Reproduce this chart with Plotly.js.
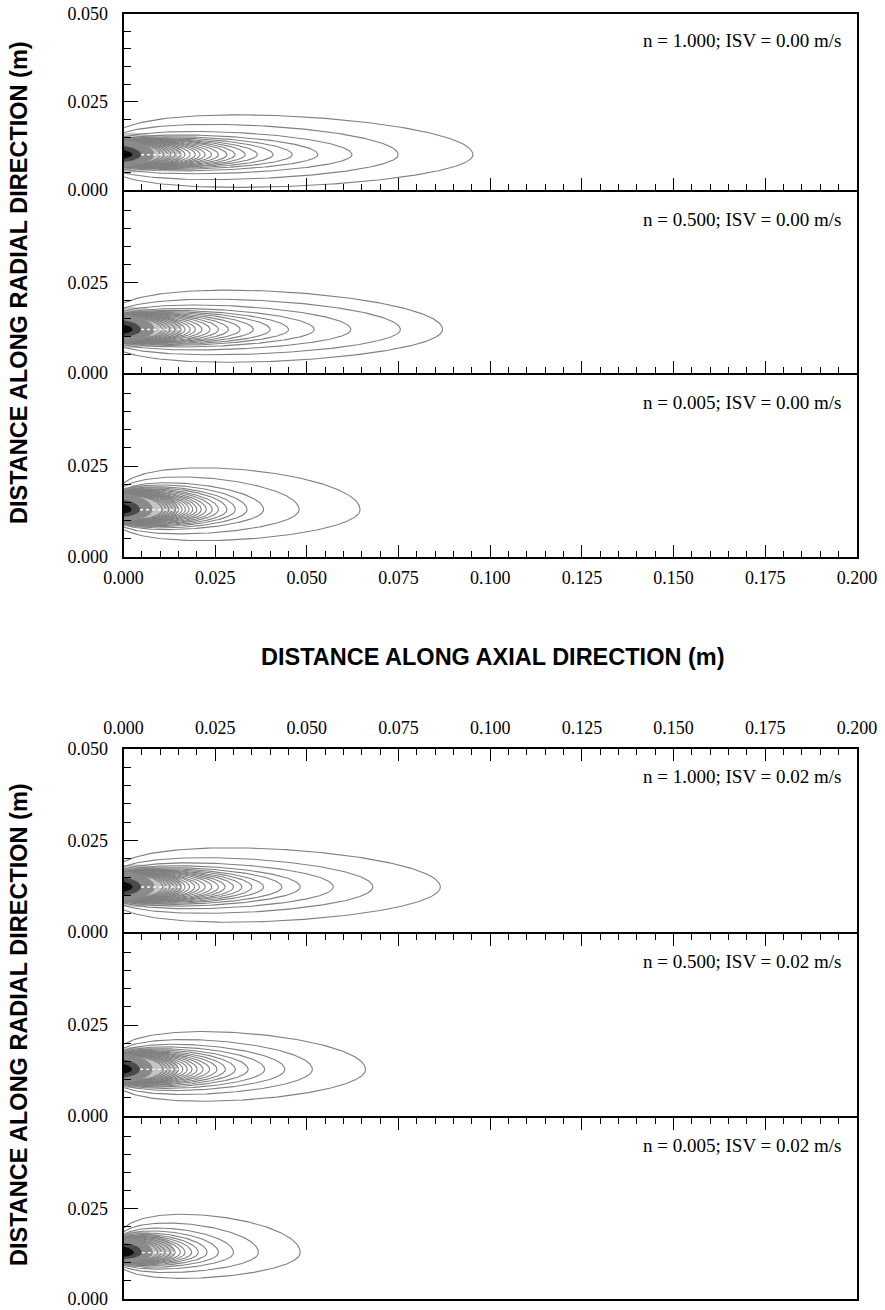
<!DOCTYPE html>
<html>
<head>
<meta charset="utf-8">
<script src="https://cdn.plot.ly/plotly-3.0.1.min.js"></script>
<style>
  html, body { margin: 0; padding: 0; background: #fff; }
  #chart { width: 885px; height: 1310px; }
</style>
</head>
<body>
<div id="chart"></div>
<script>
// ---- data -----------------------------------------------------------------
const panelText = [
  'n = 1.000; ISV = 0.00 m/s',
  'n = 0.500; ISV = 0.00 m/s',
  'n = 0.005; ISV = 0.00 m/s',
  'n = 1.000; ISV = 0.02 m/s',
  'n = 0.500; ISV = 0.02 m/s',
  'n = 0.005; ISV = 0.02 m/s'
];

const xTicks = [0, 0.025, 0.05, 0.075, 0.1, 0.125, 0.15, 0.175, 0.2];
const yTicksTop = [0, 0.025, 0.05];
const yTicksInner = [0, 0.025];

// radial position of the plume axis in each panel (m)
const plumeAxis = [0.0100, 0.0120, 0.0130, 0.0123, 0.0128, 0.0128];

// axial reach of each iso-concentration line (m), outermost first
const reach1 = [0.0953, 0.0749, 0.0623, 0.0530, 0.0460, 0.0408, 0.0365, 0.0332, 0.0304, 0.0282, 0.0259, 0.0240,
                0.0223, 0.0209, 0.0196, 0.0182, 0.0168, 0.0155, 0.0141, 0.0130, 0.0120, 0.0110, 0.0100];
const reach2 = [0.0870, 0.0755, 0.0620, 0.0520, 0.0450, 0.0400, 0.0354, 0.0318, 0.0286, 0.0259, 0.0236, 0.0214,
                0.0196, 0.0182, 0.0168, 0.0155, 0.0141, 0.0127, 0.0116, 0.0105];
const reach3 = [0.0645, 0.0479, 0.0382, 0.0337, 0.0305, 0.0282, 0.0259, 0.0242, 0.0226, 0.0212, 0.0200, 0.0189,
                0.0179, 0.0169, 0.0160, 0.0151, 0.0142, 0.0133, 0.0124, 0.0115, 0.0106];
const reach4 = [0.0864, 0.0680, 0.0572, 0.0482, 0.0432, 0.0382, 0.0350, 0.0323, 0.0300, 0.0277, 0.0259, 0.0241,
                0.0223, 0.0207, 0.0194, 0.0180, 0.0168, 0.0157, 0.0147, 0.0137, 0.0127, 0.0117, 0.0107];
const reach5 = [0.0660, 0.0515, 0.0440, 0.0385, 0.0340, 0.0305, 0.0278, 0.0255, 0.0235, 0.0217, 0.0201, 0.0187,
                0.0174, 0.0162, 0.0150, 0.0139, 0.0128, 0.0118, 0.0108];
const reach6 = [0.0482, 0.0368, 0.0300, 0.0259, 0.0228, 0.0204, 0.0186, 0.0168, 0.0155, 0.0141, 0.0128, 0.0114,
                0.0103, 0.0093];

// largest upper half width of each line (m), same order as the reaches
const width1 = [0.0113, 0.0086, 0.0066, 0.0056, 0.0051, 0.0048, 0.0046, 0.0045, 0.0044, 0.0043, 0.0042, 0.0041,
                0.0041, 0.0040, 0.0040, 0.0039, 0.0039, 0.0038, 0.0038, 0.0037, 0.0037, 0.0036, 0.0036];
const width2 = [0.0109, 0.0084, 0.0068, 0.0058, 0.0053, 0.0050, 0.0048, 0.0046, 0.0045, 0.0044, 0.0043, 0.0042,
                0.0041, 0.0040, 0.0040, 0.0039, 0.0038, 0.0038, 0.0037, 0.0036];
const width3 = [0.0115, 0.0090, 0.0074, 0.0068, 0.0063, 0.0060, 0.0057, 0.0055, 0.0053, 0.0051, 0.0050, 0.0048,
                0.0047, 0.0046, 0.0045, 0.0044, 0.0043, 0.0042, 0.0041, 0.0040, 0.0039];
const width4 = [0.0107, 0.0080, 0.0066, 0.0058, 0.0053, 0.0050, 0.0048, 0.0046, 0.0045, 0.0044, 0.0043, 0.0042,
                0.0041, 0.0040, 0.0040, 0.0039, 0.0039, 0.0038, 0.0038, 0.0037, 0.0037, 0.0036, 0.0036];
const width5 = [0.0104, 0.0082, 0.0069, 0.0062, 0.0057, 0.0054, 0.0051, 0.0049, 0.0047, 0.0046, 0.0045, 0.0044,
                0.0043, 0.0042, 0.0041, 0.0040, 0.0039, 0.0038, 0.0037];
const width6 = [0.0106, 0.0082, 0.0068, 0.0060, 0.0054, 0.0050, 0.0047, 0.0045, 0.0043, 0.0041, 0.0039, 0.0037,
                0.0036, 0.0035];

// lower half width as a share of the upper one (the wall side is flattened)
const lowerShare = [0.82, 0.83, 0.74, 0.90, 0.84, 0.67];

// shaded core: reach and half width of the light, mid, dark and black zones (m)
const coreReach1 = [0.0160, 0.0085, 0.0048, 0.0025];
const coreReach2 = [0.0160, 0.0085, 0.0048, 0.0025];
const coreReach3 = [0.0150, 0.0080, 0.0045, 0.0022];
const coreReach4 = [0.0160, 0.0085, 0.0048, 0.0025];
const coreReach5 = [0.0150, 0.0080, 0.0045, 0.0023];
const coreReach6 = [0.0140, 0.0080, 0.0050, 0.0028];
const coreWidth1 = [0.0062, 0.0042, 0.0027, 0.0017];
const coreWidth2 = [0.0062, 0.0042, 0.0027, 0.0017];
const coreWidth3 = [0.0064, 0.0042, 0.0027, 0.0017];
const coreWidth4 = [0.0062, 0.0042, 0.0027, 0.0017];
const coreWidth5 = [0.0062, 0.0042, 0.0027, 0.0017];
const coreWidth6 = [0.0060, 0.0040, 0.0026, 0.0017];

// ---- drawing ---------------------------------------------------------------
const reaches = [reach1, reach2, reach3, reach4, reach5, reach6];
const widths = [width1, width2, width3, width4, width5, width6];
const coreReaches = [coreReach1, coreReach2, coreReach3, coreReach4, coreReach5, coreReach6];
const coreWidths = [coreWidth1, coreWidth2, coreWidth3, coreWidth4, coreWidth5, coreWidth6];

// virtual source set back behind the inlet wall (m), controls how the lines meet x = 0
const sourceSetback = [0.0060, 0.0055, 0.0034, 0.0047, 0.0040, 0.0026];
const coreColors = ['rgba(150,150,150,0.55)', '#8a8a8a', '#4a4a4a', '#0c0c0c'];

const PAGE_W = 885, PAGE_H = 1310;
const plotLeft = 123.5, plotRight = 857;
// frame edges in page pixels; a panel sharing an edge with the one above starts 2px lower
// so that the two 2px frame lines fall on top of each other
const panelTop = [13.5, 192, 375, 749, 934, 1118];
const panelBottom = [190, 373, 557, 932, 1116, 1299];
// which panels draw the frame line on the side opposite their x axis
const mirrorX = [true, false, false, false, false, true];

function shape(x, L, xa) {
  const s = (x + xa) / (L + xa);
  if (s >= 1) return 0;
  return Math.sqrt(Math.E * s * Math.log(1 / s));
}

// closed outline of one iso-line: upper branch out to the tip, lower branch back
function outline(L, wUp, wLo, yc, xa) {
  const n = 140, xs = [], ys = [];
  for (let i = 0; i <= n; i++) {
    const t = i / n, x = L * (1 - (1 - t) * (1 - t));
    xs.push(x); ys.push(yc + wUp * shape(x, L, xa));
  }
  for (let i = n; i >= 0; i--) {
    const t = i / n, x = L * (1 - (1 - t) * (1 - t));
    xs.push(x); ys.push(yc - wLo * shape(x, L, xa));
  }
  return { xs, ys };
}

const traces = [];
const layout = {
  width: PAGE_W, height: PAGE_H,
  margin: { l: 0, r: 0, t: 0, b: 0 },
  paper_bgcolor: '#fff', plot_bgcolor: '#fff',
  showlegend: false,
  annotations: []
};
const serif = 'Liberation Serif, Times New Roman, serif';
const sans = 'Liberation Sans, Arial, sans-serif';

for (let p = 0; p < 6; p++) {
  const ax = p === 0 ? '' : String(p + 1);
  const xa = 'x' + ax, ya = 'y' + ax;
  const yc = plumeAxis[p], share = lowerShare[p], back = sourceSetback[p];

  // light shaded band under the packed lines
  const cr = coreReaches[p], cw = coreWidths[p];
  const addCore = (k) => {
    const o = outline(cr[k], cw[k], cw[k] * share, yc, back);
    traces.push({ type: 'scatter', mode: 'lines', x: o.xs, y: o.ys, xaxis: xa, yaxis: ya,
      fill: 'toself', fillcolor: coreColors[k], line: { width: 0, color: 'rgba(0,0,0,0)' },
      hoverinfo: 'skip' });
  };
  addCore(0);

  // iso-lines
  const lx = [], ly = [];
  reaches[p].forEach((L, i) => {
    const o = outline(L, widths[p][i], widths[p][i] * share, yc, back);
    lx.push(...o.xs, null); ly.push(...o.ys, null);
  });
  traces.push({ type: 'scatter', mode: 'lines', x: lx, y: ly, xaxis: xa, yaxis: ya,
    line: { color: '#808080', width: 1.1 }, hoverinfo: 'skip' });

  addCore(1); addCore(2); addCore(3);

  // bright streak along the axis inside the core
  traces.push({ type: 'scatter', mode: 'lines', x: [cr[2], cr[0]], y: [yc, yc], xaxis: xa, yaxis: ya,
    line: { color: '#ffffff', width: 1.4, dash: 'dot' }, hoverinfo: 'skip' });

  const yDomain = [1 - panelBottom[p] / PAGE_H, 1 - panelTop[p] / PAGE_H];
  const upperSet = p < 3;
  layout['xaxis' + ax] = {
    domain: [plotLeft / PAGE_W, plotRight / PAGE_W], anchor: ya, range: [0, 0.2],
    side: upperSet ? 'bottom' : 'top',
    showline: true, mirror: mirrorX[p], linecolor: '#000', linewidth: 2,
    ticks: 'inside', ticklen: 12, tickwidth: 1, tickcolor: '#000',
    tickmode: 'array', tickvals: xTicks, ticktext: xTicks.map(v => v.toFixed(3)),
    showticklabels: p === 2 || p === 3, ticklabelstandoff: upperSet ? 3 : 6,
    tickfont: { family: serif, size: 18, color: '#000' },
    minor: { tick0: 0, dtick: 0.005, ticks: 'inside', ticklen: 6, tickwidth: 1, tickcolor: '#000', showgrid: false },
    showgrid: false, zeroline: false, fixedrange: true
  };
  const yt = (p === 0 || p === 3) ? yTicksTop : yTicksInner;
  layout['yaxis' + ax] = {
    domain: yDomain, anchor: xa, range: [0, 0.05],
    showline: true, mirror: true, linecolor: '#000', linewidth: 2,
    ticks: 'inside', ticklen: 14, tickwidth: 1, tickcolor: '#000',
    tickmode: 'array', tickvals: yt, ticktext: yt.map(v => v.toFixed(3)),
    ticklabelstandoff: 10,
    tickfont: { family: serif, size: 18, color: '#000' },
    minor: { tick0: 0, dtick: 0.005, ticks: 'inside', ticklen: 7, tickwidth: 1, tickcolor: '#000', showgrid: false },
    showgrid: false, zeroline: false, fixedrange: true
  };

  layout.annotations.push({
    xref: 'paper', yref: 'paper', x: 843 / PAGE_W, y: 1 - (panelTop[p] + 27) / PAGE_H,
    xanchor: 'right', yanchor: 'middle', showarrow: false, text: panelText[p],
    font: { family: serif, size: 19, color: '#000' }
  });
}

const titleFont = { family: sans, size: 23.5, color: '#000', weight: 'bold' };
layout.annotations.push(
  { xref: 'paper', yref: 'paper', x: 492 / PAGE_W, y: 1 - 657 / PAGE_H, xanchor: 'center', yanchor: 'middle',
    showarrow: false, text: 'DISTANCE ALONG AXIAL DIRECTION (m)', font: titleFont },
  { xref: 'paper', yref: 'paper', x: 19 / PAGE_W, y: 1 - 283 / PAGE_H, xanchor: 'center', yanchor: 'middle',
    textangle: -90, showarrow: false, text: 'DISTANCE ALONG RADIAL DIRECTION (m)', font: titleFont },
  { xref: 'paper', yref: 'paper', x: 19 / PAGE_W, y: 1 - 1025 / PAGE_H, xanchor: 'center', yanchor: 'middle',
    textangle: -90, showarrow: false, text: 'DISTANCE ALONG RADIAL DIRECTION (m)', font: titleFont }
);

Plotly.newPlot('chart', traces, layout, { staticPlot: true, displayModeBar: false });
</script>
</body>
</html>
